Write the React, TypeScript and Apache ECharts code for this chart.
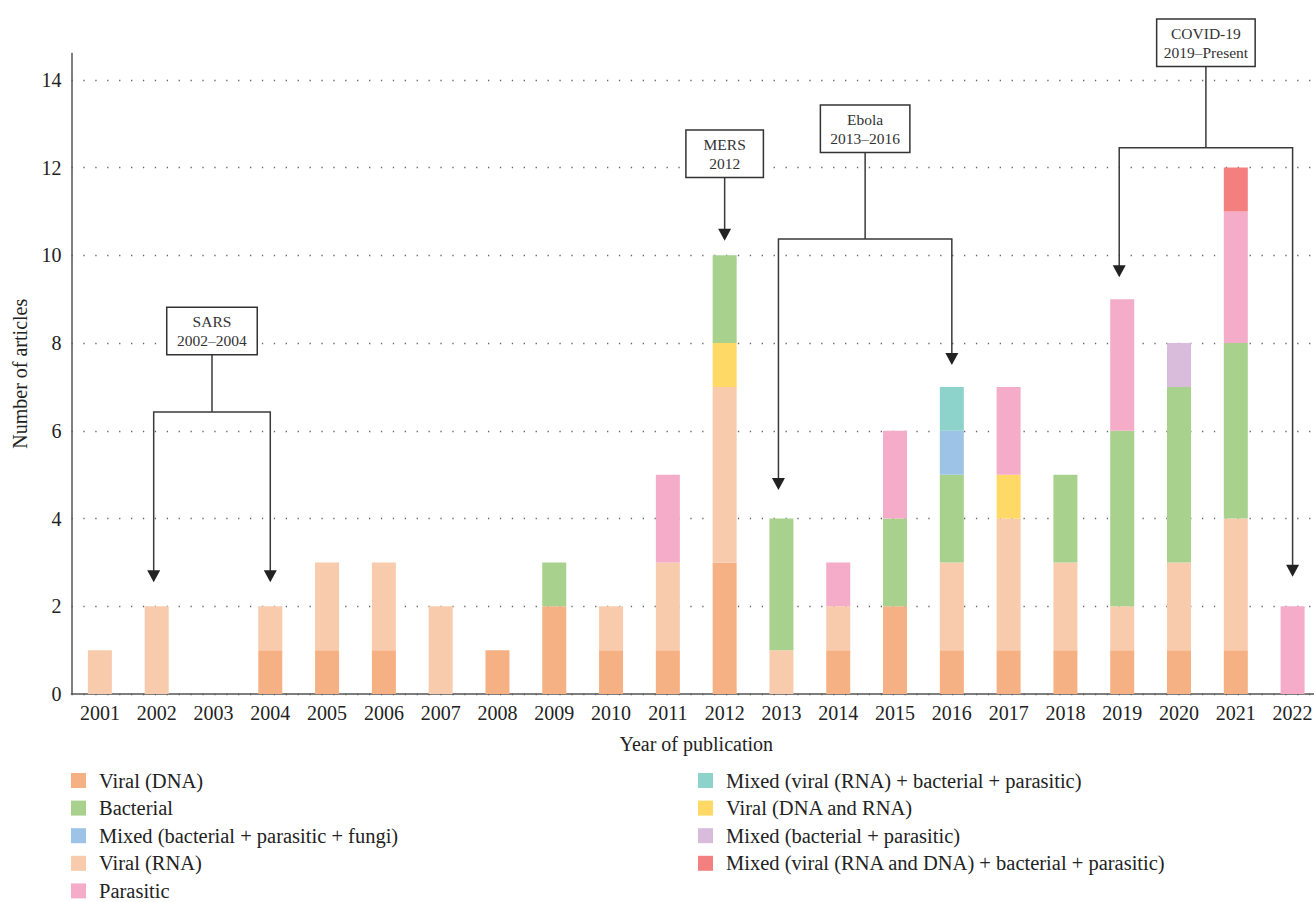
import React, { useEffect, useRef } from "react";
import * as echarts from "echarts";

const years = ["2001","2002","2003","2004","2005","2006","2007","2008","2009","2010","2011","2012","2013","2014","2015","2016","2017","2018","2019","2020","2021","2022"];

const viralDNA     = [0,0,0,1,1,1,0,1,2,1,1,3,0,1,2,1,1,1,1,1,1,0];
const viralRNA     = [1,2,0,1,2,2,2,0,0,1,2,4,1,1,0,2,3,2,1,2,3,0];
const viralDNARNA  = [0,0,0,0,0,0,0,0,0,0,0,1,0,0,0,0,1,0,0,0,0,0];
const bacterial    = [0,0,0,0,0,0,0,0,1,0,0,2,3,0,2,2,0,2,4,4,4,0];
const mixedBPF     = [0,0,0,0,0,0,0,0,0,0,0,0,0,0,0,1,0,0,0,0,0,0];
const mixedRBP     = [0,0,0,0,0,0,0,0,0,0,0,0,0,0,0,1,0,0,0,0,0,0];
const parasitic    = [0,0,0,0,0,0,0,0,0,0,2,0,0,1,2,0,2,0,3,0,3,2];
const mixedBP      = [0,0,0,0,0,0,0,0,0,0,0,0,0,0,0,0,0,0,0,1,0,0];
const mixedRDBP    = [0,0,0,0,0,0,0,0,0,0,0,0,0,0,0,0,0,0,0,0,1,0];

const yTicksMax = 14.6;

const annotationLabels = ["SARS\n2002\u20132004", "MERS\n2012", "Ebola\n2013\u20132016", "COVID-19\n2019\u2013Present"];
const annotationTargets = [["2002","2004"], ["2012"], ["2013","2016"], ["2019","2022"]];
const annotationTips = [[2.55, 2.55], [10.33], [4.65, 7.5], [9.5, 2.67]];
const annotationBracket = [6.43, null, 10.37, 12.45];
const annotationBoxBottom = [7.75, 11.79, 12.36, 14.32];

// layout only (box widths in px)
const annotationBoxWidths = [89, 76, 88, 97];

const FONT = "Liberation Serif";

const seriesDefs = [
  { name: "Viral (DNA)", data: viralDNA, color: "#F5B183" },
  { name: "Viral (RNA)", data: viralRNA, color: "#F8CBAD" },
  { name: "Viral (DNA and RNA)", data: viralDNARNA, color: "#FFD966" },
  { name: "Bacterial", data: bacterial, color: "#A9D18E" },
  { name: "Mixed (bacterial + parasitic + fungi)", data: mixedBPF, color: "#9DC3E6" },
  { name: "Mixed (viral (RNA) + bacterial + parasitic)", data: mixedRBP, color: "#8DD3CB" },
  { name: "Parasitic", data: parasitic, color: "#F4ACC8" },
  { name: "Mixed (bacterial + parasitic)", data: mixedBP, color: "#D9BBDB" },
  { name: "Mixed (viral (RNA and DNA) + bacterial + parasitic)", data: mixedRDBP, color: "#F47F7F" },
];

const legendLeft = ["Viral (DNA)", "Bacterial", "Mixed (bacterial + parasitic + fungi)", "Viral (RNA)", "Parasitic"];
const legendRight = ["Mixed (viral (RNA) + bacterial + parasitic)", "Viral (DNA and RNA)", "Mixed (bacterial + parasitic)", "Mixed (viral (RNA and DNA) + bacterial + parasitic)"];

export default function App() {
  const ref = useRef<HTMLDivElement>(null);
  useEffect(() => {
    if (!ref.current) return;
    const chart = echarts.init(ref.current, null, { renderer: "svg" });
    const legendCommon = {
      orient: "vertical",
      icon: "rect",
      itemWidth: 15,
      itemHeight: 15,
      itemGap: 6.6,
      height: 150,
      padding: 0,
      selectedMode: false,
      textStyle: { fontFamily: FONT, fontSize: 20.5, color: "#222", lineHeight: 20, padding: [0, 0, 0, 8] },
    };
    chart.setOption({
      animation: false,
      backgroundColor: "#fff",
      textStyle: { fontFamily: FONT },
      grid: { left: 71.5, right: 0, top: 53.5, bottom: 208 },
      legend: [
        { ...legendCommon, left: 71, top: 770, data: legendLeft },
        { ...legendCommon, left: 698, top: 770, data: legendRight },
      ],
      xAxis: {
        type: "category",
        data: years,
        name: "Year of publication",
        nameLocation: "middle",
        nameGap: 40,
        nameTextStyle: { fontFamily: FONT, fontSize: 20, color: "#222" },
        axisLine: { lineStyle: { color: "#555", width: 1.5 } },
        axisTick: { show: false },
        axisLabel: { fontFamily: FONT, fontSize: 20, color: "#222", margin: 9, interval: 0 },
      },
      yAxis: {
        type: "value",
        min: 0,
        max: yTicksMax,
        interval: 2,
        name: "Number of articles",
        nameLocation: "middle",
        nameGap: 42,
        nameTextStyle: { fontFamily: FONT, fontSize: 20, color: "#222" },
        axisLine: { show: true, lineStyle: { color: "#555", width: 1.5 } },
        axisTick: { show: false },
        axisLabel: { fontFamily: FONT, fontSize: 20, color: "#222", margin: 10, showMaxLabel: false },
        splitLine: { show: true, showMaxLine: false, lineStyle: { color: "#666", width: 1.3, type: [1.3, 10.6] } },
      },
      series: seriesDefs.map((s) => ({
        name: s.name,
        type: "bar",
        stack: "total",
        data: s.data,
        barWidth: 24,
        itemStyle: { color: s.color },
      })),
    });

    const px = (cat: string, v: number) => chart.convertToPixel({ xAxisIndex: 0, yAxisIndex: 0 }, [cat, v]) as number[];
    const graphics: any[] = [];
    const lineStyle = { stroke: "#3a3a3a", lineWidth: 1.5, fill: "none" };
    const arrow = (x: number, tipY: number) => ({
      type: "polygon",
      z: 100,
      shape: { points: [[x - 6.5, tipY - 12], [x + 6.5, tipY - 12], [x, tipY]] },
      style: { fill: "#222" },
    });
    annotationLabels.forEach((label, i) => {
      const targets = annotationTargets[i];
      const tips = annotationTips[i];
      const xs = targets.map((c, j) => px(c, tips[j])[0] - (targets.length > 1 && j === 0 ? 3 : 0));
      const tipYs = targets.map((c, j) => px(c, tips[j])[1]);
      const midX = (xs[0] + xs[xs.length - 1]) / 2;
      const boxBottomY = px(targets[0], annotationBoxBottom[i])[1];
      const bracketVal = annotationBracket[i];
      if (bracketVal != null) {
        const by = px(targets[0], bracketVal)[1];
        graphics.push({ type: "polyline", z: 99, shape: { points: [[midX, boxBottomY], [midX, by]] }, style: lineStyle });
        graphics.push({ type: "polyline", z: 99, shape: { points: [[xs[0], tipYs[0] - 10], [xs[0], by], [xs[1], by], [xs[1], tipYs[1] - 10]] }, style: lineStyle });
      } else {
        graphics.push({ type: "polyline", z: 99, shape: { points: [[midX, boxBottomY], [midX, tipYs[0] - 10]] }, style: lineStyle });
      }
      xs.forEach((x, j) => graphics.push(arrow(x, tipYs[j])));
      graphics.push({
        type: "text",
        z: 101,
        x: midX,
        y: boxBottomY - 23,
        style: {
          text: label,
          font: `15.5px ${FONT}`,
          fill: "#333",
          align: "center",
          verticalAlign: "middle",
          lineHeight: 19,
          width: annotationBoxWidths[i],
          backgroundColor: "#fff",
          borderColor: "#333",
          borderWidth: 1.5,
          padding: [4, 0, 4, 0],
        },
      });
    });
    chart.setOption({ graphic: graphics });

    return () => chart.dispose();
  }, []);
  return (
    <div style={{ position: "fixed", left: 0, top: 0, width: 1314, height: 902, overflow: "hidden", background: "#fff" }}>
      <div ref={ref} style={{ width: 1321, height: 902 }} />
    </div>
  );
}
